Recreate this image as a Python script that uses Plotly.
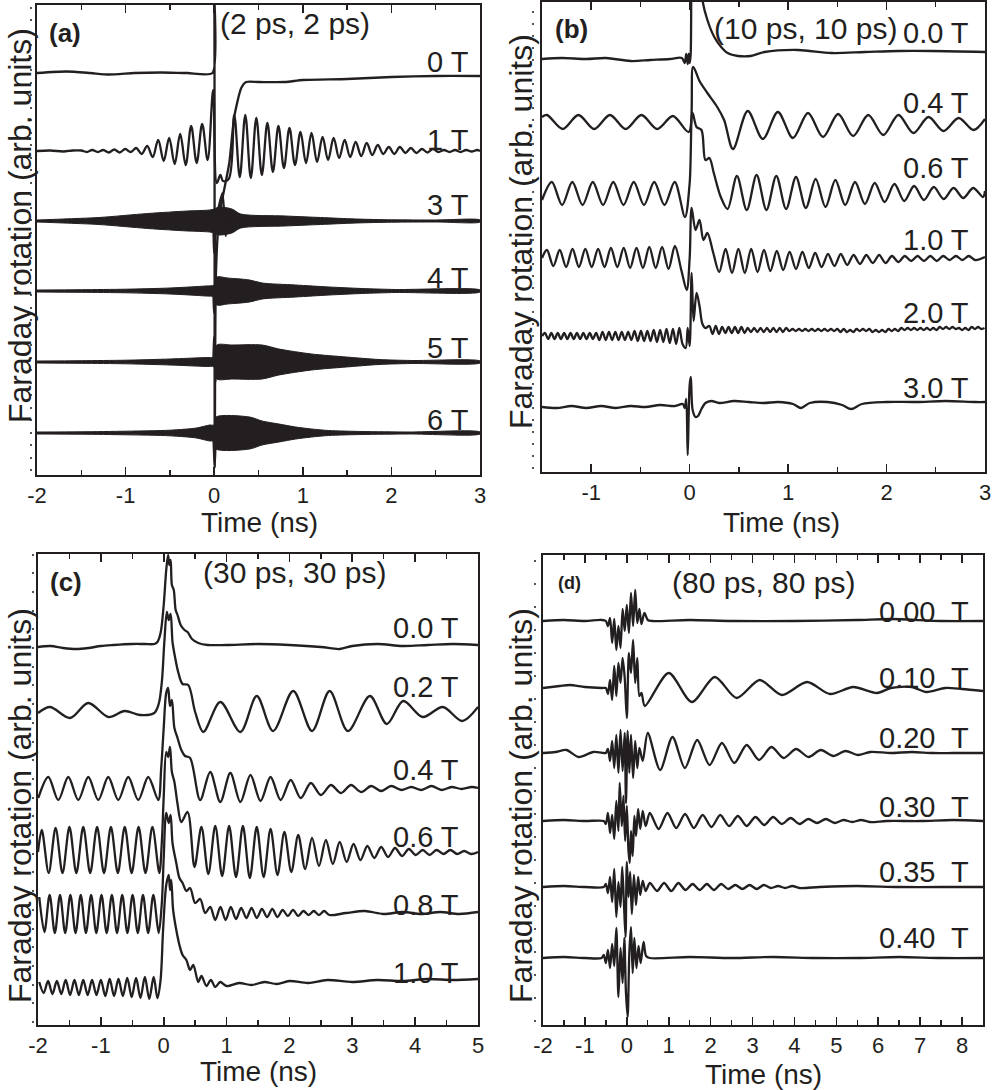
import plotly.graph_objects as go

FONT = "Liberation Sans, Arial, Helvetica, sans-serif"
INK = "#231f20"
W, H = 992, 1090

# ---------------- data (time in ns, signal in arb. units) ----------------
# each trace: list of pieces; ("pts", [(t, v), ...]) explicit points,
# ("osc", t_first_extremum, half_period, [extremum values...]) read extrema.

# ---- panel (a): (2 ps, 2 ps) ----
A_LABELS = ["0 T", "1 T", "3 T", "4 T", "5 T", "6 T"]
A_OFFSETS = [402, 324, 254, 184, 113, 42]
A_0T = [("pts", [(-2, 0), (-1.67, 1.5), (-1.4, 0), (-1.19, -1.5), (-0.9, 0), (-0.6, 0.5), (-0.3, 0),
                 (-0.02, 0), (0.0, 80), (0.006, -395), (0.02, -200), (0.056, -144), (0.17, -90),
                 (0.226, -44), (0.305, -15), (0.36, -9), (0.5, -9), (0.8, -9), (1.0, -7), (1.5, -6),
                 (2.0, -4), (2.5, -3), (3.0, -3)])]
A_1T = [("pts", [(-2, 0), (-1.85, 0.5), (-1.7, -0.5), (-1.6, 0.5)]),
        ("osc", -1.5, 0.062, [0.5, -1, 1, -1, 1, -1.5, 1.5, -1.5, 2, -1, 3, -3, 5, -6, 11, -10, 13, -13,
                              17, -14, 25, -12, 27, -9, 61]),
        ("pts", [(0.03, -32), (0.07, -24), (0.1, -30)]),
        ("osc", 0.164, 0.0623, [-28, 36, -26, 36, -27, 33, -24, 28, -21, 25, -17, 23, -14, 19, -12, 18,
                                -11, 14, -9, 13, -7, 11, -6, 9, -5, 8, -4, 6, -3, 4, -3, 4, -2, 3, -2,
                                2, -1.5, 2, -1, 1, -1, 1, -1, 1, -0.5, 1]),
        ("pts", [(3.0, 0)])]
# dense (unresolved) precession: envelope half-widths
A_3T_ENV_T = [-2, -1.7, -1.3, -0.75, -0.3, -0.05, 0.0, 0.05, 0.2, 0.3, 0.8, 1.2, 1.6, 2.0, 2.5, 3.0]
A_3T_ENV_W = [1, 2, 3.5, 7.5, 10, 11, 12, 14, 12, 7, 5, 3.5, 2, 1.2, 1, 1]
A_3T_SPIKE = [(-0.01, 0), (0.0, -32), (0.03, 5), (0.094, 28), (0.13, -15), (0.17, 8), (0.22, 0)]
A_4T_ENV_T = [-2, -1.5, -1.0, -0.5, -0.1, 0.0, 0.03, 0.15, 0.4, 0.54, 0.92, 1.3, 1.67, 2.05, 3.0]
A_4T_ENV_W = [1, 1.3, 1.8, 3, 5, 6, 14, 13, 11, 8, 6, 4, 2.5, 1.5, 1]
A_4T_SPIKE = [(-0.01, 0), (0.0, -22), (0.02, 5), (0.04, 0)]
A_5T_ENV_T = [-2, -1.5, -1.0, -0.5, -0.1, 0.0, 0.03, 0.2, 0.54, 0.73, 1.1, 1.49, 1.86, 2.23, 3.0]
A_5T_ENV_W = [1, 1.3, 1.8, 3, 4.5, 5, 17, 17, 17, 13, 8, 5, 2.5, 1.5, 1]
A_5T_SPIKE = [(-0.01, 0), (0.0, 25), (0.015, -20), (0.03, 0)]
A_6T_ENV_T = [-2, -1.5, -1.0, -0.5, -0.2, -0.05, 0.0, 0.02, 0.4, 0.54, 0.73, 0.92, 1.1, 1.29, 1.67, 2.2, 3.0]
A_6T_ENV_W = [1, 1.2, 1.8, 2.8, 5, 8, 8, 16, 16, 12, 9, 6, 4, 2.5, 1.5, 1, 1]
A_6T_SPIKE = [(-0.01, 0), (0.005, -32), (0.02, 0)]

# ---- panel (b): (10 ps, 10 ps) ----
B_LABELS = ["0.0 T", "0.4 T", "0.6 T", "1.0 T", "2.0 T", "3.0 T"]
B_OFFSETS = [413, 349, 279, 214, 136, 67]
B_00 = [("pts", [(-1.5, 0), (-1.3, 1), (-1.05, 0), (-0.85, 1), (-0.6, -2), (-0.4, -1), (-0.2, 0),
                 (-0.08, 1), (-0.05, -4), (-0.035, 5), (-0.02, -5), (-0.01, 5), (0.0, -4), (0.01, 4),
                 (0.03, 200), (0.08, 160), (0.13, 59), (0.18, 39), (0.25, 22), (0.32, 12), (0.385, 6),
                 (0.49, 3), (0.62, 3), (0.76, 7), (1.1, 9), (1.44, 6), (1.78, 7), (2.12, 8), (2.46, 8),
                 (3.0, 7)])]
B_04 = [("pts", [(-1.5, 6)]),
        ("osc", -1.45, 0.16, [8, -6, 8, -6, 8, -6, 8, -6, 7, -9]),
        ("pts", [(0.035, 56), (0.1, 42), (0.18, 30), (0.28, 16), (0.35, 3), (0.44, -26)]),
        ("osc", 0.59, 0.153, [12, -16, 11, -15, 10, -14, 9, -13, 8, -12, 8, -10, 6, -8, 5, -7]),
        ("pts", [(3.0, 4)])]
B_06 = [("pts", [(-1.5, -7)]),
        ("osc", -1.40, 0.104, [11, -12, 11, -12, 11, -12, 11, -12, 11, -12, 11, -12, 11]),
        ("pts", [(-0.048, -24), (0.0, 10), (0.03, 80), (0.07, 66), (0.12, 63), (0.16, 33), (0.2, 35),
                 (0.245, 20), (0.316, -4), (0.385, -16)]),
        ("osc", 0.48, 0.1, [17, -17, 18, -17, 17, -16, 16, -15, 14, -14, 13, -12, 11, -11, 10, -9, 9, -8,
                            7, -7, 6, -6, 5, -5, 5, -4]),
        ("pts", [(3.0, 2)])]
B_10 = [("pts", [(-1.5, 0)]),
        ("osc", -1.45, 0.065, [8, -8, 8, -9, 9, -9, 9, -9, 9, -9, 10, -9, 10, -10, 10, -10, 11, -10, 11,
                               -11, 12, -12]),
        ("pts", [(-0.03, -32), (0.0, 0), (0.02, 50), (0.06, 28), (0.1, 38), (0.14, 18), (0.18, 25),
                 (0.24, 5)]),
        ("osc", 0.3, 0.065, [-14, 9, -15, 9, -15, 9, -14, 8, -13, 7, -12, 6, -11, 6, -10, 5, -9, 4, -8, 4,
                             -7, 3, -6, 3, -5, 3, -5, 2, -4, 2, -3, 2, -3, 2, -3, 2, -2, 2, -2, 2, -2]),
        ("pts", [(3.0, 1)])]
B_20 = [("pts", [(-1.5, 0)]),
        ("osc", -1.47, 0.0325, [3, -3, 3, -3, 3, -3, 3, -3, 3, -3, 3, -3, 3, -3, 3, -3, 3, -4, 4, -4, 4, -4,
                                4, -4, 4, -4, 4, -4, 5, -5, 5, -5, 5, -5, 6, -6, 6, -6, 7, -7, 7, -8, 8, -8]),
        ("pts", [(-0.04, -12), (-0.02, 8), (0.0, -10), (0.02, 63), (0.04, 15), (0.07, 43), (0.1, 30),
                 (0.13, 12), (0.16, 8)]),
        ("osc", 0.2, 0.0325, [10, 2, 10, 2, 9, 3, 9, 3, 9, 3, 9, 3, 8, 4, 8, 4, 8, 4, 8, 4, 8, 4, 8, 4, 8, 5,
                              7, 5, 7, 5, 7, 5, 7, 5, 7, 5, 7, 5, 7, 5]),
        ("osc", 1.5, 0.0325, [7, 4, 7, 4, 6, 4, 7, 5, 7, 5, 7, 4, 6, 4, 6, 4, 7, 5, 7, 5, 8, 6, 8, 6, 8, 6,
                              8, 6, 8, 6, 8, 6, 9, 7, 9, 7, 9, 7, 8, 6, 8, 6, 9, 7, 9, 7, 8])]
B_30 = [("pts", [(-1.5, -2), (-1.35, -3), (-1.2, -1), (-1.05, -3), (-0.9, -1), (-0.75, -3), (-0.6, -1),
                 (-0.45, -2), (-0.3, 0), (-0.15, -1), (-0.07, 1), (-0.05, -3), (-0.035, 6), (-0.02, -50),
                 (-0.01, -10), (0.0, 20), (0.012, 28), (0.03, -5), (0.06, -12), (0.085, -11), (0.12, -4),
                 (0.16, 2), (0.22, 4), (0.3, 2), (0.45, 4), (0.6, 3), (0.75, 2), (0.9, 3), (1.05, 1),
                 (1.13, -3), (1.22, 2), (1.4, 3), (1.55, 0), (1.64, -4), (1.75, 1), (2.0, 3), (2.3, 3),
                 (2.6, 4), (2.9, 3), (3.0, 3)])]

# ---- panel (c): (30 ps, 30 ps) ----
C_LABELS = ["0.0 T", "0.2 T", "0.4 T", "0.6 T", "0.8 T", "1.0 T"]
C_OFFSETS = [380, 313, 237, 173, 112, 45]
C_00 = [("pts", [(-2, -2), (-1.8, -1), (-1.6, -3), (-1.4, -4), (-1.2, -3), (-1.0, -1), (-0.8, 0),
                 (-0.5, 1), (-0.3, 1), (-0.15, 1), (-0.1, 3), (-0.05, 12), (0.0, 40), (0.04, 75),
                 (0.07, 90), (0.09, 80), (0.11, 85), (0.13, 60), (0.16, 55), (0.19, 35), (0.22, 30),
                 (0.27, 20), (0.33, 15), (0.38, 13), (0.45, 6), (0.55, 2), (0.7, 0), (1.0, 0), (1.5, 1),
                 (2.0, 0), (2.5, -2), (2.8, -4), (3.0, -1), (3.4, 1), (3.8, -1), (4.2, 0), (4.6, 1),
                 (5.0, 0)])]
C_02 = [("pts", [(-2, -1), (-1.81, 5), (-1.49, -6), (-1.2, 9), (-0.88, -5), (-0.62, 1), (-0.38, -3),
                 (-0.15, -1), (-0.08, 8), (-0.03, 30), (0.01, 70), (0.05, 100), (0.08, 92), (0.11, 98),
                 (0.14, 70), (0.18, 55), (0.23, 40), (0.3, 28), (0.39, 27), (0.5, 0), (0.63, -20),
                 (0.9, 10), (1.22, -20), (1.48, 16), (1.74, -19), (2.06, 21), (2.36, -19), (2.64, 21),
                 (2.93, -19), (3.28, 16), (3.55, -12), (3.81, 11), (4.12, -5), (4.44, 5), (4.75, -9),
                 (5.0, 5)])]
C_04 = [("osc", -1.995, 0.159, [-10, 11, -12, 11, -12, 11, -12, 11, -12, 11, -12, 11, -12]),
        ("pts", [(-0.04, 20), (0.0, 60), (0.04, 95), (0.07, 100), (0.1, 82), (0.13, 88), (0.17, 60),
                 (0.22, 50), (0.28, 38), (0.34, 32)]),
        ("osc", 0.42, 0.16, [30, -12, 16, -14, 15, -14, 13, -13, 11, -12, 8, -10, 5, -7, 3, -5, 3, -4, 2,
                             -3, 2, -2, 1, -2, 2, -2, 1, -1, 1]),
        ("pts", [(5.0, 0)])]
C_06 = [("pts", [(-2, 0)]),
        ("osc", -1.94, 0.11, [22, -21, 24, -21, 25, -21, 25, -21, 25, -21, 25, -21, 25, -21, 25, -21, 25,
                              -21]),
        ("pts", [(-0.03, 10), (0.0, 55), (0.04, 100), (0.07, 95), (0.1, 105), (0.13, 80), (0.17, 70),
                 (0.22, 48), (0.28, 30)]),
        ("osc", 0.38, 0.11, [40, -15, 25, -22, 26, -24, 26, -25, 26, -26, 25, -25, 23, -23, 20, -20, 17,
                             -17, 14, -14, 12, -12, 10, -10, 8, -8, 6, -6, 5, -5, 4, -4, 3, -3, 2, -3, 2,
                             -2, 2, -2, 1, -2]),
        ("pts", [(5.0, 0)])]
C_08 = [("osc", -1.98, 0.0825, [16, -19, 18, -20, 18, -20, 18, -20, 18, -20, 18, -20, 18, -20, 18, -20,
                                18, -20, 18, -20, 18, -20, 18]),
        ("pts", [(-0.08, -20), (-0.03, 10), (0.0, 55), (0.04, 100), (0.08, 90), (0.11, 98), (0.14, 70),
                 (0.2, 50), (0.25, 35), (0.3, 30), (0.36, 22), (0.42, 25), (0.5, 10), (0.58, 14),
                 (0.66, 0), (0.74, 6)]),
        ("osc", 0.82, 0.0825, [-7, 6, -7, 6, -6, 5, -5, 5, -5, 4, -4, 4, -4, 3, -3, 3, -3, 2, -2, 2, -2,
                               2, -2]),
        ("pts", [(2.9, 0), (3.2, 2), (3.5, -1), (3.8, 1), (4.1, -1), (4.4, 1), (4.7, -1), (5.0, 1)])]
C_10 = [("osc", -1.98, 0.07, [-2, -13, -1, -14, -1, -14, 0, -15, 0, -15, 0, -15, 0, -15, 0, -16, 1, -16,
                              1, -16, 2, -17, 2, -18, 3, -19, 3]),
        ("pts", [(-0.1, -18), (-0.05, 0), (-0.01, 50), (0.04, 95), (0.08, 105), (0.1, 90), (0.12, 100),
                 (0.15, 70), (0.2, 50), (0.25, 35), (0.3, 25), (0.36, 20), (0.42, 10), (0.47, 15),
                 (0.55, -2), (0.6, 4), (0.68, -6), (0.75, 0), (0.82, -7), (0.9, -2), (1.0, -6), (1.2, -3),
                 (1.4, -5), (1.6, -2), (1.8, -4), (2.0, -1), (2.3, -3), (2.6, 0), (3.0, -2), (3.4, 0),
                 (3.8, -1), (4.2, 1), (4.6, 0), (5.0, 1)])]

# ---- panel (d): (80 ps, 80 ps) ----
D_LABELS = ["0.00\u00a0 T", "0.10\u00a0 T", "0.20\u00a0 T", "0.30\u00a0 T", "0.35\u00a0 T", "0.40\u00a0 T"]
D_OFFSETS = [404, 337, 272, 204, 138, 67]
D_00 = [("pts", [(-2, 0), (-1.5, 1), (-1.0, 0), (-0.6, 1), (-0.5, 0), (-0.45, -5), (-0.4, 3), (-0.35, -22),
                 (-0.3, 2), (-0.25, -29), (-0.2, -5), (-0.15, -27), (-0.1, 12), (-0.05, -10), (0.0, 16),
                 (0.05, -12), (0.1, 28), (0.15, -5), (0.2, 31), (0.25, -2), (0.3, 12), (0.35, -3),
                 (0.42, 8), (0.5, 1), (0.6, 0), (1.5, 1), (2.5, 0), (4.0, 0), (5.5, 1), (6.3, 2),
                 (7.5, 0), (8.5, 0)])]
D_10 = [("pts", [(-2, 0), (-1.6, 2), (-1.36, 3), (-1.0, 1), (-0.6, 0), (-0.5, 0), (-0.45, -6), (-0.4, 8),
                 (-0.35, -12), (-0.3, 22), (-0.25, -8), (-0.2, 25), (-0.15, 5), (-0.1, 30), (-0.05, 10),
                 (0.0, -30), (0.05, 35), (0.1, 15), (0.15, 48), (0.2, 5), (0.25, 30), (0.3, -8),
                 (0.35, -5), (0.43, -18), (1.0, 15), (1.55, -14), (2.1, 11), (2.62, -10), (3.17, 8),
                 (3.7, -7), (4.3, 6), (4.85, -6), (5.4, 1), (5.97, -5), (6.3, 0), (6.8, 1), (7.15, -4),
                 (7.6, 0), (8.0, -1), (8.5, -3)])]
D_20 = [("pts", [(-2, 0), (-1.7, 1), (-1.44, 3), (-1.15, -4), (-0.8, 1), (-0.55, 0), (-0.5, 0),
                 (-0.45, 4), (-0.4, -8), (-0.35, 12), (-0.3, -15), (-0.25, 18), (-0.2, -20), (-0.15, 23),
                 (-0.1, -18), (-0.05, 20), (-0.02, -50), (0.02, 22), (0.06, -20), (0.1, 18), (0.15, -25),
                 (0.2, 12), (0.25, -15), (0.3, 5), (0.38, -8)]),
        ("osc", 0.5, 0.295, [20, -17, 16, -15, 13, -12, 10, -10, 8, -7, 6, -5, 4, -4, 3, -3, 2, -2, 1]),
        ("pts", [(6.3, 0), (6.8, 1), (7.3, 0), (7.8, 0), (8.5, 0)])]
D_30 = [("pts", [(-2, 0), (-1.5, 1), (-1.0, 0), (-0.55, 0), (-0.5, -3), (-0.45, 8), (-0.4, -12),
                 (-0.35, 6), (-0.3, -18), (-0.25, 20), (-0.2, -10), (-0.17, 38), (-0.12, -5), (-0.08, 25),
                 (-0.04, -20), (0.0, 15), (0.04, -30), (0.07, -42), (0.1, -10), (0.14, -35), (0.18, 5),
                 (0.22, -15), (0.27, 12), (0.32, -8), (0.38, 10), (0.45, -5)]),
        ("osc", 0.55, 0.21, [8, -8, 8, -7, 7, -7, 6, -6, 6, -5, 5, -5, 4, -4, 4, -3, 3, -3, 2, -2, 2, -2, 1,
                             -1, 1, -1]),
        ("pts", [(6.2, 0), (7.0, 0), (7.8, 1), (8.5, 0)])]
D_35 = [("pts", [(-2, 0), (-1.5, 1), (-1.0, 0), (-0.55, 0), (-0.5, 3), (-0.45, -6), (-0.4, 10),
                 (-0.35, -15), (-0.3, 18), (-0.25, -30), (-0.2, 5), (-0.15, -20), (-0.11, 20),
                 (-0.07, -15), (-0.03, -50), (0.0, 25), (0.04, -10), (0.08, 15), (0.12, -27), (0.17, 12),
                 (0.22, -18), (0.27, 10), (0.32, -8), (0.38, 6), (0.45, -4)]),
        ("osc", 0.55, 0.17, [4, -4, 4, -4, 4, -3, 3, -3, 3, -3, 3, -2, 2, -2, 2, -2, 2, -1, 1, -1, 1, -1]),
        ("pts", [(4.6, 0), (5.5, 1), (6.5, 0), (7.5, 0), (8.5, 0)])]
D_40 = [("pts", [(-2, 0), (-1.5, 1), (-1.0, 0), (-0.6, 0), (-0.55, 3), (-0.5, -5), (-0.45, 8), (-0.4, -10),
                 (-0.35, 14), (-0.3, -8), (-0.25, 30), (-0.2, -39), (-0.15, 10), (-0.1, -25), (-0.06, 20),
                 (-0.02, -35), (0.02, -59), (0.06, 5), (0.1, 31), (0.14, -15), (0.18, 20), (0.23, -10),
                 (0.28, 12), (0.33, -5), (0.4, 16), (0.46, 2), (0.55, 0), (1.5, 1), (2.5, 0), (3.5, 1),
                 (4.5, 0), (5.5, 0), (6.5, 1), (7.5, 0), (8.5, 0)])]

# axis tick labels
A_TICKS = [-2, -1, 0, 1, 2, 3]
B_TICKS = [-1, 0, 1, 2, 3]
C_TICKS = [-2, -1, 0, 1, 2, 3, 4, 5]
D_TICKS = [-2, -1, 0, 1, 2, 3, 4, 5, 6, 7, 8]
A_TICKTEXT = ["-2", "-1", "0", "1", "2", "3"]
B_TICKTEXT = ["-1", "0", "1", "2", "3"]
C_TICKTEXT = ["-2", "-1", "0", "1", "2", "3", "4", "5"]
D_TICKTEXT = ["-2", "-1", "0", "1", "2", "3", "4", "5", "6", "7", "8"]
PANEL_NOTES = ["(2 ps, 2 ps)", "(10 ps, 10 ps)", "(30 ps, 30 ps)", "(80 ps, 80 ps)"]
PANEL_LETTERS = ["(a)", "(b)", "(c)", "(d)"]


# ---------------- helpers ----------------
def expand(pieces):
    ts, vs = [], []
    for p in pieces:
        if p[0] == "pts":
            for t, v in p[1]:
                ts.append(t)
                vs.append(v)
        else:
            _, t0, hp, vals = p
            for i, v in enumerate(vals):
                ts.append(t0 + i * hp)
                vs.append(v)
    return ts, vs


fig = go.Figure()
LW = 2.3


def add_line(pieces, offset, ax, smoothing=1.0, width=LW):
    ts, vs = expand(pieces)
    fig.add_trace(go.Scatter(x=ts, y=[offset + v for v in vs], mode="lines", xaxis=ax[0], yaxis=ax[1],
                             line=dict(color=INK, width=width, shape="spline", smoothing=smoothing),
                             hoverinfo="skip", showlegend=False))


def add_band(env_t, env_w, offset, ax):
    xs = list(env_t) + list(env_t)[::-1]
    ys = [offset + w for w in env_w] + [offset - w for w in env_w][::-1]
    fig.add_trace(go.Scatter(x=xs, y=ys, mode="lines", fill="toself", fillcolor=INK, xaxis=ax[0],
                             yaxis=ax[1], line=dict(color=INK, width=1.0, shape="spline", smoothing=0.8),
                             hoverinfo="skip", showlegend=False))


AX = {"a": ("x", "y"), "b": ("x2", "y2"), "c": ("x3", "y3"), "d": ("x4", "y4")}

# panel (a)
add_line(A_0T, A_OFFSETS[0], AX["a"], smoothing=0.6)
add_line(A_1T, A_OFFSETS[1], AX["a"])
for env_t, env_w, spike, off in [(A_3T_ENV_T, A_3T_ENV_W, A_3T_SPIKE, A_OFFSETS[2]),
                                 (A_4T_ENV_T, A_4T_ENV_W, A_4T_SPIKE, A_OFFSETS[3]),
                                 (A_5T_ENV_T, A_5T_ENV_W, A_5T_SPIKE, A_OFFSETS[4]),
                                 (A_6T_ENV_T, A_6T_ENV_W, A_6T_SPIKE, A_OFFSETS[5])]:
    add_band(env_t, env_w, off, AX["a"])
    add_line([("pts", spike)], off, AX["a"], smoothing=0.5)

# panel (b)
for tr, off in zip([B_00, B_04, B_06, B_10, B_20, B_30], B_OFFSETS):
    add_line(tr, off, AX["b"], smoothing=0.9)
# panel (c)
for tr, off in zip([C_00, C_02, C_04, C_06, C_08, C_10], C_OFFSETS):
    add_line(tr, off, AX["c"], smoothing=0.9)
# panel (d)
for tr, off in zip([D_00, D_10, D_20, D_30, D_35, D_40], D_OFFSETS):
    add_line(tr, off, AX["d"], smoothing=0.8)

# empty traces so the dotted tick axes render
for k in range(5, 9):
    xa = ["x", "x2", "x3", "x4"][k - 5]
    fig.add_trace(go.Scatter(x=[], y=[], xaxis=xa, yaxis=f"y{k}", showlegend=False))


# ---------------- layout ----------------
def px2fx(px):
    return px / W


def py2fy(py):
    return 1 - py / H


# plot areas in pixels: (left, right, top, bottom)
BOX = {"a": (37, 480, 5, 475), "b": (542, 985, 2, 472), "c": (38, 478, 554, 1025), "d": (543, 983, 555, 1025)}
XR = {"a": [-2, 3], "b": [-1.5, 3], "c": [-2, 5], "d": [-2, 8.5]}
TV = {"a": (A_TICKS, A_TICKTEXT), "b": (B_TICKS, B_TICKTEXT), "c": (C_TICKS, C_TICKTEXT), "d": (D_TICKS, D_TICKTEXT)}
DOT = {"a": (32, 12.5, 5), "b": (534, 12.0, 4), "c": (34, 18.7, 3), "d": (536, 23.0, 4)}

layout = dict(width=W, height=H, margin=dict(l=0, r=0, t=0, b=0), paper_bgcolor="white",
              plot_bgcolor="white", showlegend=False)
for i, key in enumerate(["a", "b", "c", "d"]):
    l, r, t, b = BOX[key]
    sfx = "" if i == 0 else str(i + 1)
    lo, hi = XR[key]
    minor_vals = [v / 2 for v in range(int(lo * 2), int(hi * 2) + 1) if v % 2 != 0]
    layout["xaxis" + sfx] = dict(
        domain=[px2fx(l), px2fx(r)], range=XR[key], anchor="y" + sfx, tickmode="array",
        tickvals=TV[key][0], ticktext=TV[key][1], ticks="inside", ticklen=8, tickwidth=1.6,
        tickcolor=INK, showline=True, linewidth=2, linecolor=INK, mirror="ticks", showgrid=False,
        zeroline=False, tickfont=dict(size=22, family=FONT, color=INK), ticklabelstandoff=0,
        automargin=False,
        minor=dict(tickmode="array", tickvals=minor_vals, ticks="inside", ticklen=5, tickwidth=1.4,
                   tickcolor=INK))
    height = b - t
    layout["yaxis" + sfx] = dict(
        domain=[py2fy(b), py2fy(t)], range=[0, height], anchor="x" + sfx, showticklabels=False,
        ticks="", showline=True, linewidth=2, linecolor=INK, mirror=True, showgrid=False, zeroline=False,
        automargin=False)
    dx, dd, d0 = DOT[key]
    layout["yaxis" + str(i + 5)] = dict(
        overlaying="y" + sfx, anchor="free", position=px2fx(dx), side="left", range=[0, height],
        tickmode="linear", tick0=d0, dtick=dd, ticks="outside", ticklen=2, tickwidth=2, tickcolor="#555",
        showline=False, showticklabels=False, showgrid=False, zeroline=False, automargin=False)

ann = []


def text(x, y, s, size, xanchor="center", yanchor="middle", bold=False, angle=0):
    ann.append(dict(x=px2fx(x), y=py2fy(y), xref="paper", yref="paper", text=f"<b>{s}</b>" if bold else s,
                    showarrow=False, xanchor=xanchor, yanchor=yanchor, textangle=angle,
                    font=dict(size=size, family=FONT, color=INK)))


# y titles
for x, y in [(20, 226), (521, 232), (20, 806), (521, 806)]:
    text(x, y, "Faraday rotation (arb. units)", 32, angle=-90)
# x titles
for x, y in [(259, 523), (781, 522), (258, 1071), (763, 1074)]:
    text(x, y, "Time (ns)", 28)
# panel letters
for (x, y, size), s in zip([(65, 33, 26), (571, 29, 26), (66, 582, 26), (569, 583, 18)], PANEL_LETTERS):
    text(x, y, s, size, bold=True)
# pulse durations
for (x, y), s in zip([(295, 23), (805, 28), (294, 572), (763, 583)], PANEL_NOTES):
    text(x, y, s, 30)
# field labels
for labels, xr, ys in [(A_LABELS, 471, [62, 140, 205, 278, 348, 420]),
                       (B_LABELS, 971, [33, 103, 168, 240, 313, 388]),
                       (C_LABELS, 461, [628, 687, 770, 837, 905, 973]),
                       (D_LABELS, 971, [612, 678, 738, 807, 872, 938])]:
    for s, y in zip(labels, ys):
        text(xr, y, s, 29, xanchor="right")

layout["annotations"] = ann
fig.update_layout(**layout)
# the page's default 8px body margin would shift the figure; remove it
fig.write_html("out.html", config={"displayModeBar": False, "staticPlot": True},
               post_script="document.body.style.margin='0px';")
